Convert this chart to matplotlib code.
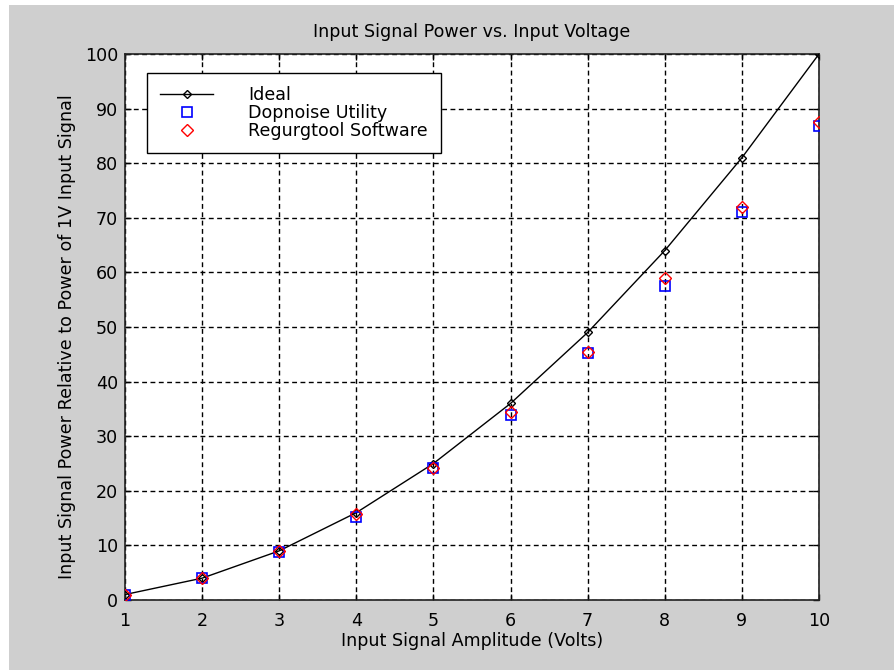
import matplotlib
matplotlib.use("Agg")
import matplotlib.pyplot as plt
from matplotlib.patches import Rectangle

amplitude = [1, 2, 3, 4, 5, 6, 7, 8, 9, 10]
ideal = [1, 4, 9, 16, 25, 36, 49, 64, 81, 100]
dopnoise = [1.0, 4.1, 8.8, 15.2, 24.1, 33.9, 45.2, 57.5, 71.1, 86.8]
regurgtool = [1.0, 4.1, 8.9, 15.7, 24.2, 34.5, 45.5, 59.0, 72.0, 87.6]

xticks = list(range(1, 11))
yticks = list(range(0, 101, 10))

plt.rcParams['font.family'] = ['DejaVu Sans']
FS = 12.6

gray = '#cfcfcf'
fig = plt.figure(figsize=(8.94, 6.70), dpi=100, facecolor='white')
fig.patches.append(Rectangle((9 / 894, 0), 1, 1 - 5 / 670, transform=fig.transFigure,
                             facecolor=gray, edgecolor='none', zorder=-10))

ax = fig.add_axes([125 / 894, 1 - 600 / 670, (819 - 125) / 894, (600 - 54) / 670])
ax.set_facecolor('white')

ax.plot(amplitude, ideal, color='black', lw=1.0, marker='D', markersize=4.5,
        markerfacecolor='none', markeredgecolor='black', markeredgewidth=1.0,
        label='Ideal', zorder=3)
ax.plot(amplitude, dopnoise, linestyle='none', marker='s', markersize=7.5,
        markerfacecolor='none', markeredgecolor='blue', markeredgewidth=1.2,
        label='Dopnoise Utility', zorder=4)
ax.plot(amplitude, regurgtool, linestyle='none', marker='D', markersize=6,
        markerfacecolor='none', markeredgecolor='red', markeredgewidth=1.0,
        label='Regurgtool Software', zorder=5)

ax.set_xlim(1, 10)
ax.set_ylim(0, 100)
ax.set_xticks(xticks)
ax.set_yticks(yticks)
ax.grid(True, color='black', linestyle=(0, (3.5, 2.5)), linewidth=1.0)
ax.tick_params(direction='in', top=True, right=True, length=4, width=1, colors='black',
               labelsize=FS)
ax.tick_params(axis='x', pad=9)
ax.tick_params(axis='y', pad=5)
for s in ax.spines.values():
    s.set_linewidth(1.2)
    s.set_color('#222222')

ax.set_title('Input Signal Power vs. Input Voltage', fontsize=FS, pad=12)
ax.set_xlabel('Input Signal Amplitude (Volts)', fontsize=FS, labelpad=1)
ax.set_ylabel('Input Signal Power Relative to Power of 1V Input Signal', fontsize=FS)
ax.yaxis.set_label_coords(-0.071, 0.482)

leg = ax.legend(loc='upper left', bbox_to_anchor=(0.032, 0.965), borderaxespad=0,
                fancybox=False, framealpha=1, edgecolor='black', fontsize=FS,
                handlelength=3.0, handletextpad=2.0, labelspacing=0.0, borderpad=0.75)
leg.get_frame().set_linewidth(1.0)

fig.savefig('out.png', dpi=100, facecolor=fig.get_facecolor())
